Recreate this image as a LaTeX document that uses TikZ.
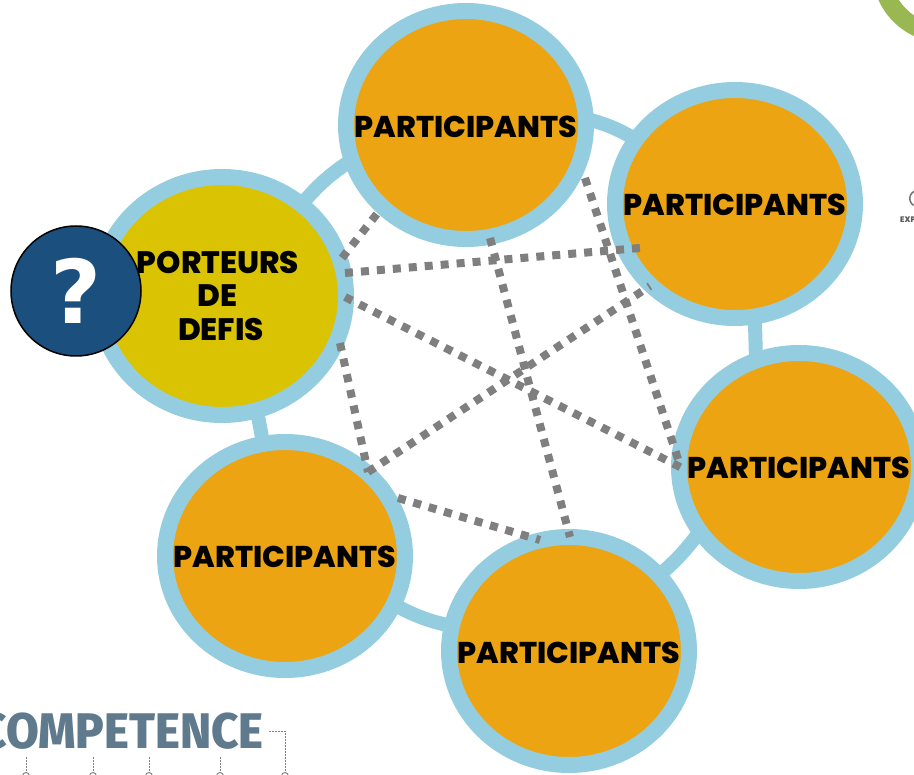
\documentclass[tikz,border=0pt]{standalone}
\usepackage{fontspec}
\usetikzlibrary{shapes.geometric,backgrounds}
\setmainfont{Poppins}[BoldFont={Poppins ExtraBold}]
\newfontfamily\qfont{DejaVu Sans}
\newfontfamily\cfont{Fira Sans}[BoldFont={Fira Sans ExtraBold}]
\definecolor{ringblue}{HTML}{94CDDF}
\definecolor{orangefill}{HTML}{ECA412}
\definecolor{yellowfill}{HTML}{DAC303}
\definecolor{navy}{HTML}{1B4F7E}
\definecolor{dotgray}{HTML}{7F7F7F}
\definecolor{slate}{HTML}{5F7A8C}
\definecolor{leaf}{HTML}{9AB851}
\tikzset{
  x=1pt,y=-1pt,
  lab/.style={font=\bfseries\fontsize{30}{31}\selectfont,text=black,inner sep=0pt},
  lab2/.style={font=\bfseries\fontsize{31}{32}\selectfont,text=black,inner sep=0pt},
  person/.style={ellipse,draw=ringblue,line width=16pt,fill=orangefill,inner sep=0pt,outer sep=0pt,
     minimum width=240pt,minimum height=228pt},
  link/.style={draw=ringblue,line width=14pt},
  dotlink/.style={draw=dotgray,line width=8pt,dash pattern=on 8pt off 8pt},
  stub/.style={draw=gray,line width=0.8pt,dash pattern=on 1.5pt off 1.5pt},
  pin/.style={circle,draw=gray,line width=0.9pt,minimum size=7pt,inner sep=0pt,fill=white},
}
\begin{document}
\begin{tikzpicture}
\useasboundingbox (0,0) rectangle (914,775);
\clip (0,0) rectangle (914,775);
% corner ring
\fill[leaf,even odd rule] (945,-30) circle[radius=73pt] (945,-30) circle[radius=55pt];
% edge of neighbouring logo
\node[font=\bfseries\fontsize{8}{9}\selectfont,text=black!65,anchor=west,inner sep=0pt] (expl) at (900,220) {EXP};
\draw[black!55,line width=1.5pt] (915,191) arc[start angle=110,end angle=240,radius=8pt];
% nodes
\node[person] (p1) at (466,125) {};
\node[person] (p2) at (735,204) {};
\node[person] (p3) at (799,467) {};
\node[person] (p4) at (569,651) {};
\node[person] (p5) at (285,556) {};
\node[person,fill=yellowfill,minimum width=248pt,minimum height=238pt] (port) at (222,296) {};
\begin{scope}[on background layer]
  \draw[link] (port.49) to[bend left=8] (p1.197);
  \draw[link] (p1.3) to[bend left=8] (p2.147);
  \draw[link] (p2.-80) -- (p3.112);
  \draw[link] (p3.213) to[bend left=6] (p4.40);
  \draw[link] (p4.168) to[bend left=8] (p5.-24);
  \draw[link] (p5.101) -- (port.-73);
\end{scope}
\node[lab] (t1) at (466,127) {PARTICIPANTS};
\node[lab] (t2) at (735,205) {PARTICIPANTS};
\node[lab] (t3) at (799,468) {PARTICIPANTS};
\node[lab] (t4) at (569,653) {PARTICIPANTS};
\node[lab] (t5) at (285,557) {PARTICIPANTS};
\node[lab2] (t6a) at (218,263) {PORTEURS};
\node[lab2] (t6b) at (217.5,296) {DE};
\node[lab2] (t6c) at (221,330) {DEFIS};
% dotted links
\coordinate (a1) at (342,258); \coordinate (a2) at (380,210);
\coordinate (b1) at (345,273); \coordinate (b2) at (640,248);
\coordinate (c1) at (345,297); \coordinate (c2) at (682,468);
\coordinate (d1) at (340,343); \coordinate (d2) at (368,472);
\coordinate (e2) at (650,286);
\coordinate (f1) at (398,498); \coordinate (f2) at (540,540);
\coordinate (g1) at (490,238); \coordinate (g2) at (570,537);
\coordinate (h1) at (585,178); \coordinate (h2) at (680,465);
\draw[dotlink] (a1) -- (a2);
\draw[dotlink] (b1) -- (b2);
\draw[dotlink] (c1) -- (c2);
\draw[dotlink] (d1) -- (d2);
\draw[dotlink] (d2) -- (e2);
\draw[dotlink] (f1) -- (f2);
\draw[dotlink] (g1) -- (g2);
\draw[dotlink] (h1) -- (h2);
% question mark
\node[circle,draw=black,line width=1.5pt,fill=navy,minimum size=130pt,inner sep=0pt,text=white,
      font=\qfont\bfseries\fontsize{88}{88}\selectfont] (q) at (76,291) {\raisebox{-4pt}{?}};
% competence fragment
\node[font=\cfont\bfseries\fontsize{50}{50}\selectfont,text=slate,anchor=east,inner sep=0pt,xscale=0.95] (comp) at (264,731) {COMPETENCE};
\coordinate (c0) at (269,731);
\node[pin] (k5) at (285,776) {};
\node[pin] (k1) at (26,776) {};
\node[pin] (k2) at (93,776) {};
\node[pin] (k3) at (149,776) {};
\node[pin] (k4) at (220,776) {};
\draw[stub] (c0) -| (k5);
\coordinate (s1) at (26,757); \coordinate (s2) at (93,757); \coordinate (s3) at (149,757); \coordinate (s4) at (220,757);
\draw[stub] (s1) -- (k1);
\draw[stub] (s2) -- (k2);
\draw[stub] (s3) -- (k3);
\draw[stub] (s4) -- (k4);
\end{tikzpicture}
\end{document}
